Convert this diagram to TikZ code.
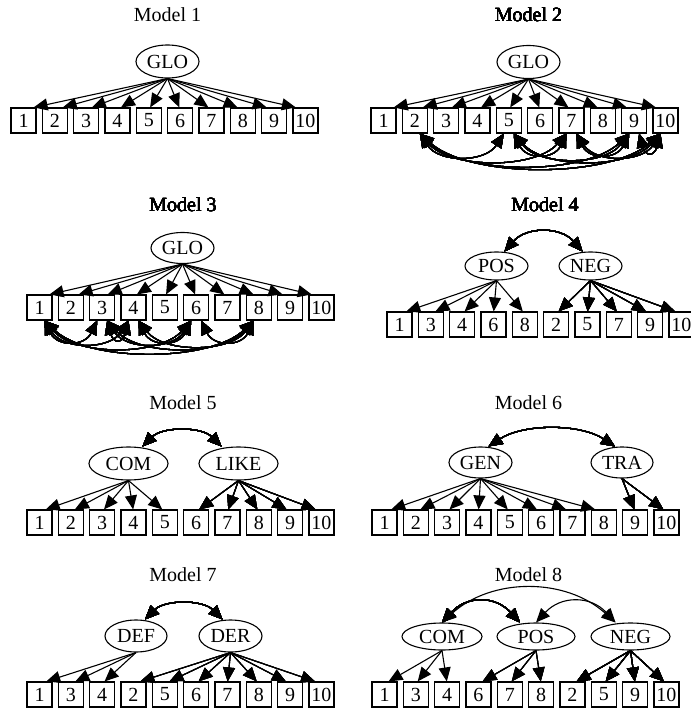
\documentclass[tikz,border=0pt]{standalone}
\usepackage{fontspec}
\setmainfont{Liberation Serif}
\usetikzlibrary{shapes.geometric,arrows.meta,calc}
\newcommand\resid[3]{\draw[arrb] ([xshift=5pt]#1.south) .. controls +({0.2*#3},{20+0.1*#3}) and +({-0.2*#3},{20+0.1*#3}) .. ([xshift=-5pt]#2.south);}
\newcommand\lv[2]{\draw[arr] (#1.south) -- ($(#2.north)!0.07!(#1.south |- #2.north)$);}
\begin{document}
\begin{tikzpicture}[x=1pt,y=-1pt,font=\fontsize{20}{24}\selectfont,
  box/.style={draw,line width=1.1pt,minimum width=25pt,minimum height=25pt,inner sep=0pt},
  lat/.style={draw,ellipse,line width=1.1pt,minimum width=63pt,minimum height=32pt,inner sep=0pt},
  ttl/.style={inner sep=0pt},
  arr/.style={line width=1.1pt,-{Triangle[length=14pt,width=12pt]}},
  arrb/.style={line width=1.1pt,{Triangle[length=14pt,width=12pt]}-{Triangle[length=14pt,width=12pt]}}]
\useasboundingbox (0,0) rectangle (690,708);
% ---------------- Model 1
\node[ttl] (t1) at (167.5,15) {Model 1};
\node[lat,minimum height=33pt] (m1g) at (167.5,61.5) {GLO};
\foreach \lab [count=\i from 0] in {1,...,10}
  \node[box] (m1b\lab) at (23.5+\i*31.33,120.5) {\lab};
\foreach \k in {1,...,10} \lv{m1g}{m1b\k}
% ---------------- Model 2
\node[ttl] (t2) at (528.5,15) {Model 2};
\node[lat,minimum height=33pt] (m2g) at (528.5,62) {GLO};
\foreach \lab [count=\i from 0] in {1,...,10}
  \node[box] (m2b\lab) at (383.5+\i*31.33,120.5) {\lab};
\foreach \k in {1,...,10} \lv{m2g}{m2b\k}
\resid{m2b2}{m2b5}{94}
\resid{m2b2}{m2b7}{157}
\resid{m2b2}{m2b9}{219}
\resid{m2b2}{m2b10}{251}
\resid{m2b5}{m2b7}{63}
\resid{m2b5}{m2b9}{125}
\resid{m2b5}{m2b10}{157}
\resid{m2b7}{m2b9}{63}
\resid{m2b7}{m2b10}{94}
\resid{m2b9}{m2b10}{31}
% ---------------- Model 3
\node[ttl] (t3) at (183,205) {Model 3};
\node[lat,minimum height=31pt] (m3g) at (182.5,248) {GLO};
\foreach \lab [count=\i from 0] in {1,...,10}
  \node[box] (m3b\lab) at (39.5+\i*31.33,307.5) {\lab};
\foreach \k in {1,...,10} \lv{m3g}{m3b\k}
\resid{m3b1}{m3b3}{63}
\resid{m3b1}{m3b4}{94}
\resid{m3b1}{m3b6}{157}
\resid{m3b1}{m3b8}{219}
\resid{m3b3}{m3b4}{31}
\resid{m3b3}{m3b6}{94}
\resid{m3b3}{m3b8}{157}
\resid{m3b4}{m3b6}{63}
\resid{m3b4}{m3b8}{125}
\resid{m3b6}{m3b8}{63}
% ---------------- Model 4
\node[ttl] (t4) at (545,205) {Model 4};
\node[lat,minimum height=28pt] (m4p) at (496.5,266) {POS};
\node[lat,minimum height=28pt] (m4n) at (590.5,266) {NEG};
\foreach \lab [count=\i from 0] in {1,3,4,6,8,2,5,7,9,10}
  \node[box] (m4b\lab) at (399.5+\i*31.33,324.5) {\lab};
\foreach \k in {1,3,4,6,8} \lv{m4p}{m4b\k}
\foreach \k in {2,5,7,9,10} \lv{m4n}{m4b\k}
\draw[arrb] ([xshift=8pt]m4p.north) .. controls +(22,-25) and +(-22,-25) .. ([xshift=-8pt]m4n.north);
% ---------------- Model 5
\node[ttl] (t5) at (183,403) {Model 5};
\node[lat,minimum width=79pt,minimum height=33pt] (m5c) at (128.5,463.5) {COM};
\node[lat,minimum width=79pt,minimum height=33pt] (m5l) at (238.5,463.5) {LIKE};
\foreach \lab [count=\i from 0] in {1,...,10}
  \node[box] (m5b\lab) at (39.5+\i*31.33,522.5) {\lab};
\foreach \k in {1,...,5} \lv{m5c}{m5b\k}
\foreach \k in {6,...,10} \lv{m5l}{m5b\k}
\draw[arrb] ([xshift=14pt]m5c.north) .. controls +(20,-20) and +(-20,-20) .. ([xshift=-17pt]m5l.north);
% ---------------- Model 6
\node[ttl] (t6) at (528.5,403) {Model 6};
\node[lat,minimum height=31pt] (m6g) at (480.5,462.5) {GEN};
\node[lat,minimum width=62pt,minimum height=31pt] (m6t) at (622,462.5) {TRA};
\foreach \lab [count=\i from 0] in {1,...,10}
  \node[box] (m6b\lab) at (384.5+\i*31.33,522.5) {\lab};
\foreach \k in {1,...,8} \lv{m6g}{m6b\k}
\foreach \k in {9,10} \lv{m6t}{m6b\k}
\draw[arrb] ([xshift=8pt]m6g.north) .. controls +(35,-23) and +(-35,-23) .. ([xshift=-7pt]m6t.north);
% ---------------- Model 7
\node[ttl] (t7) at (183,575) {Model 7};
\node[lat,minimum width=62pt] (m7d) at (136,636) {DEF};
\node[lat] (m7r) at (230.5,636) {DER};
\foreach \lab [count=\i from 0] in {1,3,4,2,5,6,7,8,9,10}
  \node[box] (m7b\lab) at (39.5+\i*31.33,694.5) {\lab};
\foreach \k in {1,3,4} \lv{m7d}{m7b\k}
\foreach \k in {2,5,6,7,8,9,10} \lv{m7r}{m7b\k}
\draw[arrb] ([xshift=9pt]m7d.north) .. controls +(20,-20) and +(-20,-20) .. ([xshift=-8pt]m7r.north);
% ---------------- Model 8
\node[ttl] (t8) at (528.5,575) {Model 8};
\node[lat,minimum width=80pt,minimum height=27pt] (m8c) at (442,636.5) {COM};
\node[lat,minimum width=78pt,minimum height=27pt] (m8p) at (536,636.5) {POS};
\node[lat,minimum width=79pt,minimum height=27pt] (m8n) at (630.5,636.5) {NEG};
\foreach \lab [count=\i from 0] in {1,3,4,6,7,8,2,5,9,10}
  \node[box] (m8b\lab) at (384.5+\i*31.33,694.5) {\lab};
\foreach \k in {1,3,4} \lv{m8c}{m8b\k}
\foreach \k in {6,7,8} \lv{m8p}{m8b\k}
\foreach \k in {2,5,9,10} \lv{m8n}{m8b\k}
\draw[arrb] (m8c.north) .. controls +(25,-27) and +(-25,-27) .. ([xshift=-16pt]m8p.north);
\draw[arrb] (m8c.north) .. controls +(50,-45) and +(-50,-45) .. ([xshift=-15pt]m8n.north);
\draw[arrb] (m8p.north) .. controls +(25,-27) and +(-25,-27) .. ([xshift=-15pt]m8n.north);
\end{tikzpicture}
\end{document}
